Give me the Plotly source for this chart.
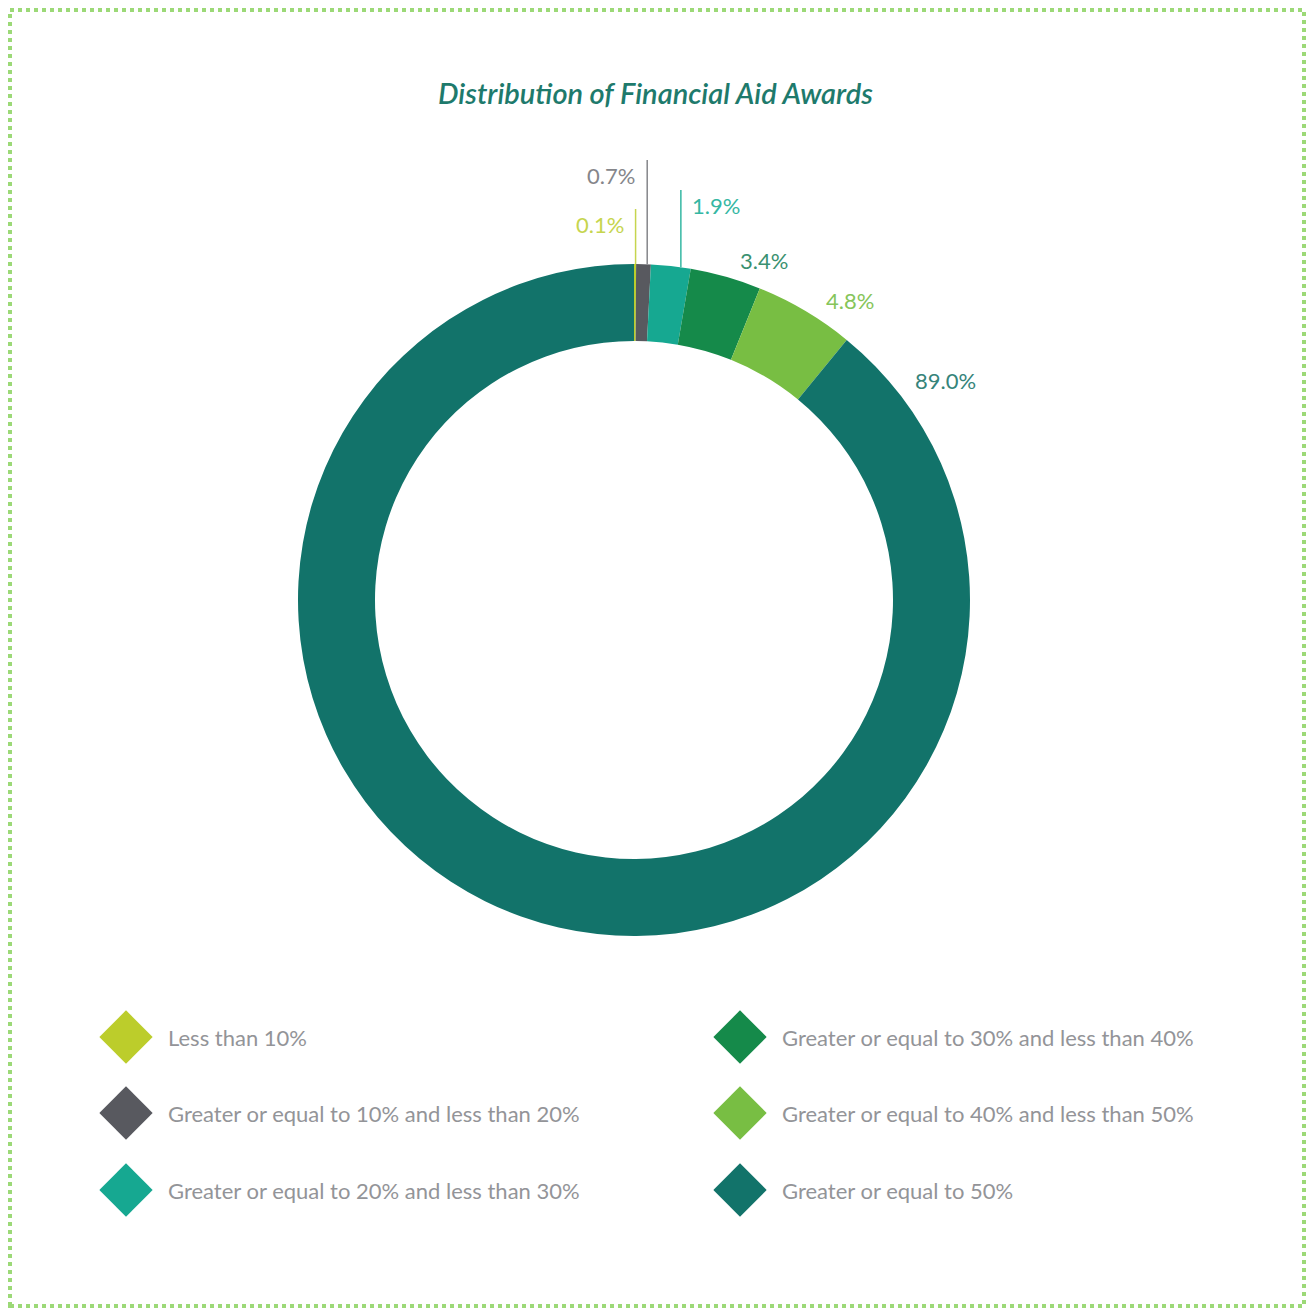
import math
import plotly.graph_objects as go

# ---------------- data ----------------
categories = [
    "Less than 10%",
    "Greater or equal to 10% and less than 20%",
    "Greater or equal to 20% and less than 30%",
    "Greater or equal to 30% and less than 40%",
    "Greater or equal to 40% and less than 50%",
    "Greater or equal to 50%",
]
shares = [0.1, 0.7, 1.9, 3.4, 4.8, 89.0]
value_labels = ["0.1%", "0.7%", "1.9%", "3.4%", "4.8%", "89.0%"]
title_text = "Distribution of Financial Aid Awards"

# ---------------- style ----------------
W, H = 1310, 1311
colors = ["#BCCD2B", "#58595F", "#16A891", "#158A4A", "#78BE43", "#12736A"]
label_colors = ["#C6D54E", "#85868A", "#35B7A3", "#3A9170", "#86C55A", "#36847A"]
legend_text_color = "#939498"
title_color = "#1E7A6C"
border_color = "#9CD977"
FONT = "Lato"

cx, cy, r_out, r_in = 634, 600, 336, 259       # donut geometry (px)
label_r = 355                                   # radius for outside labels
leader = {0: (209, "left"), 1: (160, "left"), 2: (190, "right")}  # small slices: leader top (px) & side


def px(x):
    return x / W


def py(y):
    return 1 - y / H


fig = go.Figure()

fig.add_trace(go.Pie(
    labels=categories,
    values=shares,
    sort=False,
    direction="clockwise",
    rotation=0,
    hole=r_in / r_out,
    marker=dict(colors=colors, line=dict(width=0)),
    textinfo="none",
    hoverinfo="label+percent",
    showlegend=False,
    domain=dict(x=[px(cx - r_out), px(cx + r_out)],
                y=[py(cy + r_out), py(cy - r_out)]),
))

annotations = []
shapes = []

# ---------------- slice labels ----------------
total = sum(shares)
cum = 0.0
for i, (v, lab) in enumerate(zip(shares, value_labels)):
    start = cum / total * 360
    span = v / total * 360
    cum += v
    if i in leader:
        ang = math.radians(start + span * 0.75)
        lx = cx + r_out * math.sin(ang)
        ly0 = cy - r_out * math.cos(ang)
        top, side = leader[i]
        shapes.append(dict(type="line", xref="paper", yref="paper",
                           x0=px(lx), x1=px(lx), y0=py(ly0), y1=py(top),
                           line=dict(color=label_colors[i], width=1.5)))
        if side == "left":
            tx, anchor = lx - 10, "right"
        else:
            tx, anchor = lx + 9, "left"
        annotations.append(dict(x=px(tx), y=py(top + 15), xref="paper", yref="paper",
                                text=lab, showarrow=False, xanchor=anchor, yanchor="middle",
                                font=dict(family=FONT, size=22, color=label_colors[i])))
    else:
        ang = math.radians(start + min(span * 0.6, 12.5))
        tx = cx + label_r * math.sin(ang)
        ty = cy - label_r * math.cos(ang)
        annotations.append(dict(x=px(tx), y=py(ty), xref="paper", yref="paper",
                                text=lab, showarrow=False, xanchor="left", yanchor="middle",
                                font=dict(family=FONT, size=22, color=label_colors[i])))

# ---------------- custom legend (diamonds) ----------------
leg_x = [126, 740]
leg_y = [1037, 1113, 1190]
mx, my = [], []
for i, name in enumerate(categories):
    col, row = divmod(i, 3)
    mx.append(leg_x[col])
    my.append(leg_y[row])
    annotations.append(dict(x=px(leg_x[col] + 40), y=py(leg_y[row]), xref="paper", yref="paper",
                            text=name, showarrow=False, xanchor="left", yanchor="middle",
                            font=dict(family=FONT, size=22, color=legend_text_color)))

fig.add_trace(go.Scatter(
    x=mx, y=my, mode="markers",
    marker=dict(symbol="diamond", size=41, color=colors, line=dict(width=0)),
    showlegend=False, hoverinfo="skip",
))

# ---------------- title ----------------
annotations.append(dict(x=px(655), y=py(93), xref="paper", yref="paper",
                        text=title_text, showarrow=False, xanchor="center", yanchor="middle",
                        font=dict(family=FONT, size=29, color=title_color,
                                  style="italic", weight=600)))

# ---------------- border ----------------
shapes.append(dict(type="rect", xref="paper", yref="paper",
                   x0=px(10), x1=px(1304), y0=py(1306), y1=py(10),
                   line=dict(color=border_color, width=4, dash="dot")))

fig.update_layout(
    width=W, height=H,
    margin=dict(l=0, r=0, t=0, b=0),
    paper_bgcolor="white",
    plot_bgcolor="rgba(0,0,0,0)",
    xaxis=dict(range=[0, W], visible=False, fixedrange=True),
    yaxis=dict(range=[H, 0], visible=False, fixedrange=True),
    annotations=annotations,
    shapes=shapes,
    showlegend=False,
)

fig.write_html("out.html", config={"displayModeBar": False},
               post_script="document.body.style.margin='0';document.body.style.overflow='hidden';")
